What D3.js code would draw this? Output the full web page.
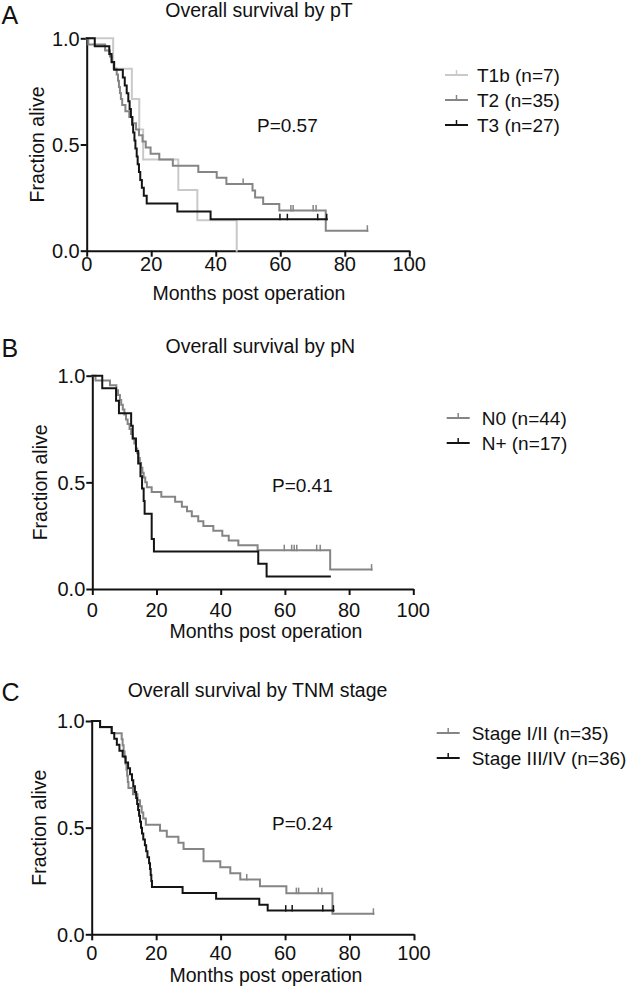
<!DOCTYPE html>
<html>
<head>
<meta charset="utf-8">
<script src="https://cdn.jsdelivr.net/npm/d3@7"></script>
<style>
  html, body { margin: 0; padding: 0; background: #fff; }
  svg text { font-family: "Liberation Sans", Arial, Helvetica, sans-serif; fill: #111; }
</style>
</head>
<body>
<svg id="chart" width="629" height="986"></svg>
<script>
// ---------------- DATA ----------------
const xTickValues = [0, 20, 40, 60, 80, 100];
const yTickValues = [0, 0.5, 1.0];
const yTickLabels = ["0.0", "0.5", "1.0"];
const panelLetters = ["A", "B", "C"];
const panelTitles = ["Overall survival by pT", "Overall survival by pN", "Overall survival by TNM stage"];
const pValues = ["P=0.57", "P=0.41", "P=0.24"];
const xAxisTitle = "Months post operation";
const yAxisTitle = "Fraction alive";

// Panel A: pT
const a_T1b_times  = [8.2, 14.0, 16.3, 17.5, 28.4, 34.3, 46.5];
const a_T1b_levels = [0.857, 0.714, 0.571, 0.429, 0.286, 0.143, 0.0];
const a_T1b_censor = [];
const a_T1b_end = 46.5;

const a_T2_times  = [0.5, 5.7, 7.2, 7.8, 8.5, 9.3, 9.7, 10.0, 10.3, 10.6, 11.0, 12.0, 13.2, 14.2, 15.3, 16.2, 17.3, 18.3, 19.8, 22.5, 26.7, 34.6, 40.3, 43.3, 51.4, 52.2, 54.7, 59.7, 74.1];
const a_T2_levels = [0.971, 0.943, 0.914, 0.886, 0.857, 0.829, 0.800, 0.771, 0.743, 0.714, 0.686, 0.657, 0.629, 0.600, 0.571, 0.543, 0.514, 0.486, 0.457, 0.429, 0.400, 0.371, 0.343, 0.314, 0.283, 0.251, 0.220, 0.189, 0.094];
const a_T2_censor = [48.5, 63.3, 64.0, 70.2, 71.1, 87.0];
const a_T2_end = 87.0;

const a_T3_times  = [2.5, 7.0, 7.7, 8.5, 11.2, 11.8, 12.4, 12.9, 13.3, 13.7, 14.1, 14.4, 14.8, 15.1, 15.5, 15.8, 16.2, 16.6, 17.1, 17.7, 18.6, 28.1, 38.4];
const a_T3_levels = [0.963, 0.926, 0.889, 0.852, 0.815, 0.778, 0.741, 0.704, 0.667, 0.630, 0.593, 0.556, 0.519, 0.481, 0.444, 0.407, 0.370, 0.333, 0.296, 0.259, 0.222, 0.185, 0.148];
const a_T3_censor = [59.9, 62.2, 71.6, 74.4];
const a_T3_end = 74.4;

// Panel B: pN
const b_N0_times  = [1.0, 5.5, 7.5, 8.0, 8.6, 9.0, 9.5, 10.0, 10.5, 11.0, 11.6, 12.1, 12.6, 13.1, 13.6, 14.0, 14.4, 14.8, 15.2, 15.6, 16.0, 16.5, 17.0, 18.5, 21.5, 25.8, 27.9, 29.5, 31.0, 33.0, 34.6, 37.7, 40.5, 42.5, 45.5, 51.5, 74.1];
const b_N0_levels = [0.977, 0.955, 0.932, 0.909, 0.886, 0.864, 0.841, 0.818, 0.795, 0.773, 0.750, 0.727, 0.705, 0.682, 0.659, 0.636, 0.614, 0.591, 0.568, 0.545, 0.523, 0.500, 0.477, 0.455, 0.432, 0.409, 0.386, 0.364, 0.341, 0.318, 0.295, 0.273, 0.250, 0.227, 0.205, 0.182, 0.091];
const b_N0_censor = [59.8, 62.1, 62.9, 63.7, 69.9, 71.0, 87.0];
const b_N0_end = 87.0;

const b_Np_times  = [3.1, 7.4, 8.3, 12.1, 12.6, 13.6, 14.3, 15.0, 15.5, 16.0, 16.3, 18.5, 19.2, 51.7, 54.3];
const b_Np_levels = [0.941, 0.882, 0.824, 0.765, 0.706, 0.647, 0.588, 0.529, 0.471, 0.412, 0.353, 0.235, 0.176, 0.118, 0.059];
const b_Np_censor = [];
const b_Np_end = 74.0;

// Panel C: TNM stage
const c_I_times  = [2.6, 6.2, 9.3, 9.6, 9.9, 10.2, 10.5, 10.8, 11.0, 11.2, 11.4, 12.8, 14.2, 15.0, 15.5, 16.0, 16.8, 21.2, 23.3, 26.9, 28.5, 34.7, 39.9, 43.0, 46.1, 52.2, 60.4, 74.7];
const c_I_levels = [0.971, 0.943, 0.914, 0.886, 0.857, 0.829, 0.800, 0.771, 0.743, 0.714, 0.686, 0.657, 0.629, 0.600, 0.571, 0.543, 0.514, 0.486, 0.457, 0.429, 0.400, 0.343, 0.314, 0.286, 0.257, 0.225, 0.193, 0.096];
const c_I_censor = [48.1, 63.5, 64.2, 70.3, 71.4, 87.4];
const c_I_end = 87.4;

const c_III_times  = [2.6, 6.2, 7.0, 7.8, 8.6, 9.6, 10.5, 11.3, 11.9, 12.5, 12.9, 13.4, 13.8, 14.1, 14.4, 14.7, 15.0, 15.3, 15.6, 16.0, 16.5, 16.9, 17.3, 17.8, 18.1, 18.3, 18.5, 18.7, 28.2, 38.6, 52.0, 54.6];
const c_III_levels = [0.972, 0.944, 0.917, 0.889, 0.861, 0.833, 0.806, 0.778, 0.750, 0.722, 0.694, 0.667, 0.639, 0.611, 0.583, 0.556, 0.528, 0.500, 0.472, 0.444, 0.417, 0.389, 0.361, 0.333, 0.306, 0.278, 0.250, 0.222, 0.194, 0.167, 0.139, 0.111];
const c_III_censor = [60.2, 62.2, 71.7, 75.0];
const c_III_end = 75.0;

const seriesNames = [
  ["T1b (n=7)", "T2 (n=35)", "T3 (n=27)"],
  ["N0 (n=44)", "N+ (n=17)"],
  ["Stage I/II (n=35)", "Stage III/IV (n=36)"]
];
const colorLight = "#c9c9c9", colorMid = "#858585", colorDark = "#141414";

// ---------------- LAYOUT ----------------
const FONT = "'Liberation Sans', Arial, Helvetica, sans-serif";
const panels = [
  { x0: 86.7, x1: 409.3, yTop: 38.3, yBot: 250.7,
    letterY: 23.5, titleX: 259, titleY: 16.5, tickBase: 271, xLabX: 249, xLabY: 300, yLabX: 37,
    pX: 257, pY: 132, legX: 445, legTextX: 477, legY: 75,
    series: [
      { t: a_T1b_times, s: a_T1b_levels, c: a_T1b_censor, end: a_T1b_end, color: colorLight },
      { t: a_T2_times, s: a_T2_levels, c: a_T2_censor, end: a_T2_end, color: colorMid },
      { t: a_T3_times, s: a_T3_levels, c: a_T3_censor, end: a_T3_end, color: colorDark }
    ] },
  { x0: 92.3, x1: 413.3, yTop: 375.7, yBot: 589,
    letterY: 357, titleX: 260.3, titleY: 353.3, tickBase: 617, xLabX: 266, xLabY: 638.3, yLabX: 40,
    pX: 272, pY: 492, legX: 446.7, legTextX: 481.7, legY: 418,
    series: [
      { t: b_N0_times, s: b_N0_levels, c: b_N0_censor, end: b_N0_end, color: colorMid },
      { t: b_Np_times, s: b_Np_levels, c: b_Np_censor, end: b_Np_end, color: colorDark }
    ] },
  { x0: 91.7, x1: 414, yTop: 721, yBot: 934.3,
    letterY: 700.5, titleX: 257.5, titleY: 696.7, tickBase: 959.7, xLabX: 266, xLabY: 981.7, yLabX: 39,
    pX: 272, pY: 830, legX: 436.7, legTextX: 471.7, legY: 733,
    series: [
      { t: c_I_times, s: c_I_levels, c: c_I_censor, end: c_I_end, color: colorMid },
      { t: c_III_times, s: c_III_levels, c: c_III_censor, end: c_III_end, color: colorDark }
    ] }
];

const svg = d3.select("#chart");
const FS = 19.5;

panels.forEach((p, pi) => {
  const x = d3.scaleLinear().domain([0, 100]).range([p.x0, p.x1]);
  const y = d3.scaleLinear().domain([0, 1]).range([p.yBot, p.yTop]);
  const g = svg.append("g").attr("font-family", FONT);

  // panel letter
  g.append("text").attr("x", 1.5).attr("y", p.letterY)
    .style("font-size", "25px").text(panelLetters[pi]);
  // title
  g.append("text").attr("x", p.titleX).attr("y", p.titleY).attr("text-anchor", "middle")
    .style("font-size", FS + "px").text(panelTitles[pi]);

  // axes
  const xAxis = d3.axisBottom(x).tickValues(xTickValues).tickSize(6).tickSizeOuter(0).tickFormat("");
  const yAxis = d3.axisLeft(y).tickValues(yTickValues).tickSize(6).tickSizeOuter(0).tickFormat("");
  const gx = g.append("g").attr("transform", `translate(0,${p.yBot})`).call(xAxis);
  const gy = g.append("g").attr("transform", `translate(${p.x0},0)`).call(yAxis);
  [gx, gy].forEach(a => {
    a.select(".domain").attr("stroke", "#111").attr("stroke-width", 2);
    a.selectAll(".tick line").attr("stroke", "#111").attr("stroke-width", 2);
  });
  // x tick labels
  g.selectAll(".xtl").data(xTickValues).join("text")
    .attr("x", d => x(d)).attr("y", p.tickBase).attr("text-anchor", "middle")
    .style("font-size", "20px").text(d => d);
  // y tick labels
  g.selectAll(".ytl").data(yTickValues).join("text")
    .attr("x", p.x0 - 7).attr("y", d => y(d) + 7.2).attr("text-anchor", "end")
    .style("font-size", "20px").text((d, i) => yTickLabels[i]);

  // axis titles
  g.append("text").attr("x", p.xLabX).attr("y", p.xLabY).attr("text-anchor", "middle")
    .style("font-size", FS + "px").text(xAxisTitle);
  g.append("text").attr("transform", `translate(${p.yLabX},${(p.yTop + p.yBot) / 2}) rotate(-90)`)
    .attr("text-anchor", "middle").attr("dominant-baseline", "central")
    .style("font-size", FS + "px").text(yAxisTitle);

  // curves
  const line = d3.line().x(d => x(d[0])).y(d => y(d[1]));
  p.series.forEach(s => {
    const pts = [[0, 1]];
    let prev = 1;
    s.t.forEach((t, i) => { pts.push([t, prev]); pts.push([t, s.s[i]]); prev = s.s[i]; });
    if (s.end > s.t[s.t.length - 1]) pts.push([s.end, prev]);
    g.append("path").attr("d", line(pts)).attr("fill", "none")
      .attr("stroke", s.color).attr("stroke-width", 2).attr("stroke-linejoin", "miter").attr("stroke-linecap", "square");
    const levelAt = t => { let l = 1; s.t.forEach((tt, i) => { if (tt <= t) l = s.s[i]; }); return l; };
    g.selectAll(null).data(s.c).join("line")
      .attr("x1", d => x(d)).attr("x2", d => x(d))
      .attr("y1", d => y(levelAt(d)) - 5.5).attr("y2", d => y(levelAt(d)) + 1)
      .attr("stroke", s.color).attr("stroke-width", 1.5);
  });

  // P value
  g.append("text").attr("x", p.pX).attr("y", p.pY).style("font-size", "19px").text(pValues[pi]);

  // legend
  p.series.forEach((s, i) => {
    const ly = p.legY + i * 25;
    g.append("line").attr("x1", p.legX).attr("x2", p.legX + 23).attr("y1", ly).attr("y2", ly)
      .attr("stroke", s.color).attr("stroke-width", 2);
    g.append("line").attr("x1", p.legX + 11.5).attr("x2", p.legX + 11.5).attr("y1", ly - 5).attr("y2", ly)
      .attr("stroke", s.color).attr("stroke-width", 1.5);
    g.append("text").attr("x", p.legTextX).attr("y", ly + 6.8).style("font-size", "19px").text(seriesNames[pi][i]);
  });
});
</script>
</body>
</html>
